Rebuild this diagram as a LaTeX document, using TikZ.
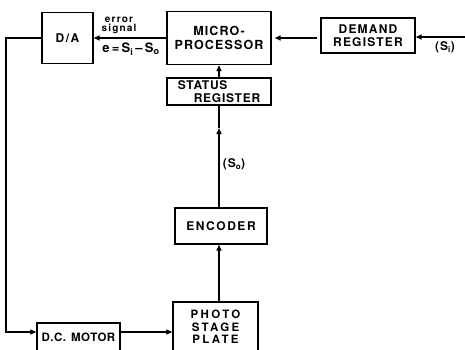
\documentclass[tikz,border=0pt]{standalone}
\usepackage{fontspec}
\setmainfont{TeX Gyre Heros}
\usetikzlibrary{arrows.meta}
\newcommand{\lsp}[1]{\addfontfeature{LetterSpace=#1}}
\begin{document}
\begin{tikzpicture}[x=1pt,y=-1pt,
  blk/.style={draw, line width=1.4pt, inner sep=0pt, align=center},
  con/.style={line width=1.4pt},
  arr/.style={con, -{Triangle[length=6pt,width=5pt]}},
  lbl/.style={inner sep=0pt, align=center}]
\useasboundingbox (0,0) rectangle (465,349);
\node[blk, minimum width=51pt, minimum height=51pt, font=\fontsize{12}{13}\selectfont\bfseries\lsp{12}] (da) at (67.5,38) {D/A};
\node[blk, minimum width=104pt, minimum height=53pt, font=\fontsize{12.5}{14}\selectfont\bfseries\lsp{9}] (mp) at (219,38) {MICRO-\\PROCESSOR};
\node[blk, minimum width=104pt, minimum height=27pt, align=left, font=\fontsize{12}{13}\selectfont\bfseries\lsp{6}] (st) at (219,91.5) {STATUS\\\hspace*{16pt}REGISTER};
\node[blk, minimum width=94pt, minimum height=35pt, font=\fontsize{12}{13}\selectfont\bfseries\lsp{10}] (dr) at (368,35.5) {DEMAND\\REGISTER};
\node[blk, minimum width=92pt, minimum height=36pt, font=\fontsize{12}{12}\selectfont\bfseries\lsp{13}] (enc) at (221,226) {ENCODER};
\node[blk, minimum width=85pt, minimum height=50pt, font=\fontsize{11.5}{12.5}\selectfont\bfseries\lsp{20}] (ph) at (215.5,327) {PHOTO\\STAGE\\PLATE};
\node[blk, minimum width=83pt, minimum height=29pt, font=\fontsize{11.5}{12}\selectfont\bfseries\lsp{4}] (dc) at (78.5,337.5) {D.C.\hspace{5pt}MOTOR};
\coordinate (c1) at (6,38);
\coordinate (c2) at (6,332);
\coordinate (mid) at (219,128);
\coordinate (in) at (465,37);
\draw[arr] (mp.west) -- (da.east);
\draw[arr] (da.west) -- (c1) -- (c2) -- (c2 -| dc.west);
\draw[arr] (c2 -| dc.east) -- (c2 -| ph.west);
\draw[arr] (ph.north -| st.south) -- (enc.south -| st.south);
\draw[arr] (enc.north -| st.south) -- (mid);
\draw[con] (mid) -- (st.south);
\draw[arr] (st.north) -- (mp.south);
\draw[arr, shorten <=3pt, shorten >=3pt] (dr.west |- mp.east) -- (mp.east);
\draw[arr] (in) -- (in -| dr.east);
\node[lbl, font=\fontsize{10}{9}\selectfont\bfseries\lsp{12}] (err) at (119,25) {error\\signal};
\node[lbl, font=\fontsize{13}{13}\selectfont\bfseries\lsp{8}] (eq) at (131,49.5) {e\,=\,S\textsubscript{i}\,–\,S\textsubscript{o}};
\node[lbl, font=\fontsize{12}{12}\selectfont\bfseries\lsp{8}] (si) at (445,47) {(S\textsubscript{i})};
\node[lbl, font=\fontsize{12}{12}\selectfont\bfseries\lsp{8}] (so) at (234,164) {(S\textsubscript{o})};
\end{tikzpicture}
\end{document}
